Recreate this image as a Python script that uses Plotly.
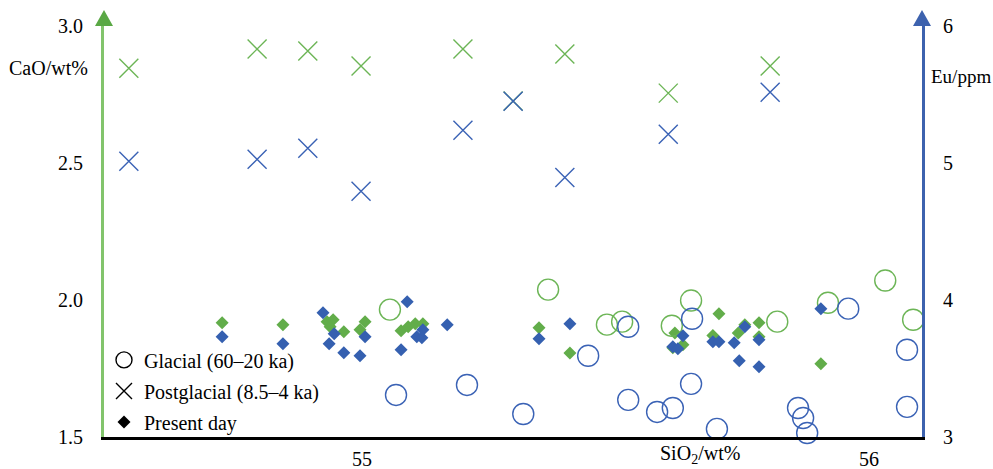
import plotly.graph_objects as go

# ---------------- data ----------------
# Postglacial (8.5-4 ka)
post_sio2 = [54.540, 54.793, 54.893, 54.998, 55.199, 55.298, 55.400, 55.604, 55.805]
post_cao = [2.846, 2.916, 2.909, 2.854, 2.916, 2.726, 2.898, 2.755, 2.854]
post_eu = [5.012, 5.027, 5.107, 4.793, 5.239, 5.451, 4.895, 5.210, 5.517]

# Glacial (60-20 ka)
glac_cao_sio2 = [55.055, 55.367, 55.483, 55.513, 55.611, 55.649, 55.819, 55.919, 56.032, 56.087]
glac_cao = [1.965, 2.038, 1.910, 1.921, 1.906, 1.998, 1.921, 1.990, 2.071, 1.928]
glac_eu_sio2 = [55.067, 55.207, 55.318, 55.446, 55.525, 55.525, 55.582, 55.613, 55.649,
                55.651, 55.556, 55.700, 55.860, 55.870, 55.878, 55.959, 56.075, 56.075]
glac_eu = [3.307, 3.380, 3.168, 3.593, 3.805, 3.271, 3.183, 3.212, 3.388,
           3.863, 2.993, 3.059, 3.212, 3.139, 3.029, 3.937, 3.637, 3.220]

# Present day
pres_cao_sio2 = [54.724, 54.844, 54.931, 54.943, 54.937, 54.964, 55.006, 54.996, 55.077,
                 55.091, 55.105, 55.120, 55.349, 55.410, 55.617, 55.613, 55.633, 55.692,
                 55.704, 55.742, 55.755, 55.783, 55.783, 55.905]
pres_cao = [1.917, 1.910, 1.921, 1.928, 1.902, 1.884, 1.921, 1.891, 1.888,
            1.902, 1.913, 1.913, 1.899, 1.807, 1.880, 1.826, 1.837, 1.870,
            1.950, 1.880, 1.910, 1.917, 1.866, 1.767]
pres_eu_sio2 = [54.724, 54.844, 54.923, 54.935, 54.945, 54.964, 54.996, 55.006, 55.077,
                55.089, 55.108, 55.118, 55.120, 55.168, 55.349, 55.410, 55.613, 55.623,
                55.633, 55.692, 55.704, 55.734, 55.744, 55.755, 55.783, 55.783, 55.905]
pres_eu = [3.732, 3.680, 3.907, 3.680, 3.754, 3.615, 3.593, 3.732, 3.637,
           3.988, 3.732, 3.724, 3.783, 3.820, 3.717, 3.827, 3.659, 3.644,
           3.739, 3.695, 3.695, 3.688, 3.556, 3.805, 3.710, 3.512, 3.937]

cao_ticks = [1.5, 2.0, 2.5, 3.0]
eu_ticks = [3, 4, 5, 6]
sio2_ticks = [55, 56]
legend_names = ["Glacial (60–20 ka)", "Postglacial (8.5–4 ka)", "Present day"]

# ---------------- style ----------------
GREEN = "#62ad4a"
BLUE = "#3560b0"
FONT = "Liberation Serif"
FS = 20

fig = go.Figure()

def add(x, y, axis, symbol, color, size, filled):
    if filled:
        marker = dict(symbol=symbol, size=size, color=color, line=dict(width=0))
    else:
        marker = dict(symbol=symbol, size=size, color=color, line=dict(width=1.4, color=color))
    fig.add_trace(go.Scatter(x=x, y=y, yaxis=axis, mode="markers", marker=marker,
                             showlegend=False, cliponaxis=False, hoverinfo="x+y"))

add(pres_cao_sio2, pres_cao, "y", "diamond", GREEN, 10, True)
add(pres_eu_sio2, pres_eu, "y2", "diamond", BLUE, 10, True)
add(glac_cao_sio2, glac_cao, "y", "circle-open", "#6cb556", 21, False)
add(glac_eu_sio2, glac_eu, "y2", "circle-open", "#3a62b5", 21, False)
add(post_sio2, post_cao, "y", "x-thin", "#6cb556", 19, False)
add(post_sio2, post_eu, "y2", "x-thin", "#3a62b5", 19, False)

# legend-only entries in black
leg_syms = [("circle-open", 18, False), ("x-thin", 16, False), ("diamond", 10, True)]
for i, (name, (sym, sz, filled)) in enumerate(zip(legend_names, leg_syms)):
    if filled:
        mk = dict(symbol=sym, size=sz, color="black")
    else:
        mk = dict(symbol=sym, size=sz, color="black", line=dict(width=1.4, color="black"))
    fig.add_trace(go.Scatter(x=[None], y=[None], mode="markers", name=name, marker=mk,
                             legendgroup=f"g{i}", showlegend=True))

axis_font = dict(family=FONT, size=FS, color="black")

fig.update_layout(
    width=993, height=469,
    margin=dict(l=104, r=71, t=26, b=32),
    paper_bgcolor="white", plot_bgcolor="white",
    font=dict(family=FONT, size=FS, color="black"),
    showlegend=True,
    legend=dict(x=0.0, y=0.235, xanchor="left", yanchor="top",
                bgcolor="rgba(0,0,0,0)", font=dict(family=FONT, size=FS, color="black"),
                tracegroupgap=2, itemclick=False),
    xaxis=dict(range=[54.491, 56.1045], tickvals=sio2_ticks, ticks="", showgrid=False,
               zeroline=False, showline=True, linecolor="black", linewidth=3,
               tickfont=axis_font, ticklabelstandoff=2, automargin=False),
    yaxis=dict(range=[1.5, 3.0], tickvals=cao_ticks, tickformat=".1f", ticks="",
               showgrid=False, zeroline=False, showline=True, linecolor="#82c46c",
               linewidth=3, tickfont=axis_font, ticklabelstandoff=14, automargin=False),
    yaxis2=dict(range=[3, 6], tickvals=eu_ticks, overlaying="y", side="right", ticks="",
                showgrid=False, zeroline=False, showline=True, linecolor="#3d62ae",
                linewidth=3, tickfont=axis_font, ticklabelstandoff=14, automargin=False),
)

# arrow heads at the top of the two vertical axes
def arrow(xp, color):
    dx = 9 / 818
    tip = 1 + 16 / 411
    fig.add_shape(type="path", xref="paper", yref="paper",
                  path=f"M {xp-dx},1.0 L {xp+dx},1.0 L {xp},{tip} Z",
                  fillcolor=color, line=dict(width=0))

arrow(0.0, "#5aa845")
arrow(1.0, "#3d62ae")

# axis titles
fig.add_annotation(text="CaO/wt%", xref="paper", yref="paper", x=-0.017, y=0.898,
                   xanchor="right", yanchor="middle", showarrow=False, font=axis_font)
fig.add_annotation(text="Eu/ppm", xref="paper", yref="paper", x=1.0086, y=0.876,
                   xanchor="left", yanchor="middle", showarrow=False,
                   font=dict(family=FONT, size=19, color="black"))
fig.add_annotation(text="SiO<sub>2</sub>/wt%", xref="paper", yref="paper", x=0.7286,
                   y=-0.042, xanchor="center", yanchor="middle", showarrow=False,
                   font=axis_font)

fig.write_html("out.html", config={"displayModeBar": False},
               post_script="document.body.style.margin='0px';")
